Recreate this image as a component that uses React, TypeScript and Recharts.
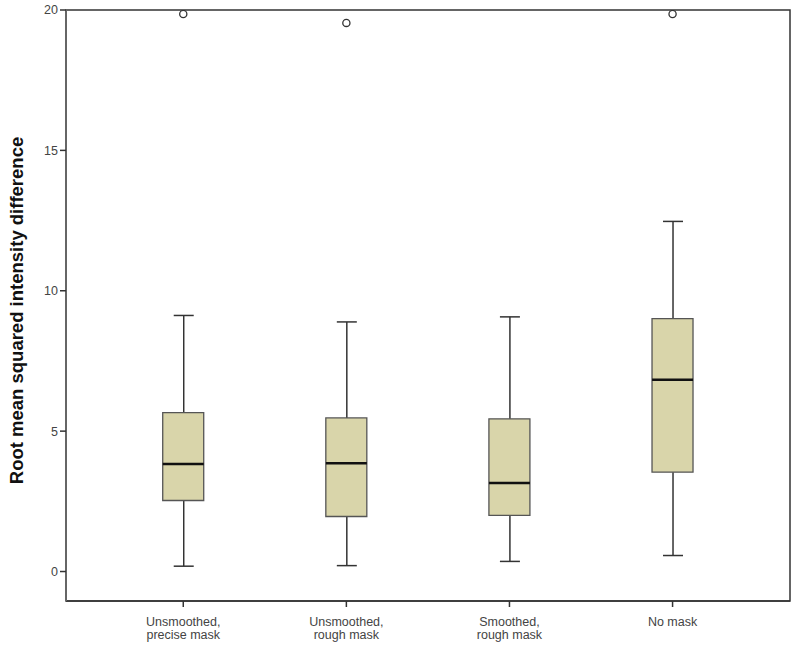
import React from 'react';
import { ComposedChart, Bar, Scatter, XAxis, YAxis, ReferenceArea } from 'recharts';

// ---- data ----
const categoryLines: string[][] = [
  ['Unsmoothed,', 'precise mask'],
  ['Unsmoothed,', 'rough mask'],
  ['Smoothed,', 'rough mask'],
  ['No mask'],
];
const positions = [1, 2, 3, 4];
const whiskerLow = [0.19, 0.21, 0.36, 0.57];
const q1 = [2.53, 1.96, 2.0, 3.54];
const median = [3.83, 3.86, 3.15, 6.83];
const q3 = [5.66, 5.47, 5.44, 9.01];
const whiskerHigh = [9.12, 8.89, 9.07, 12.47];
const outlierPos = [1, 2, 4];
const outlierVal = [19.86, 19.54, 19.86];
const yTicks = [0, 5, 10, 15, 20];
const yLabel = 'Root mean squared intensity difference';

const X_DOMAIN: [number, number] = [0.281, 4.72];
const Y_DOMAIN: [number, number] = [-1.05, 20];

const rows = positions.map((x, i) => ({
  x,
  whisker: [whiskerLow[i], whiskerHigh[i]],
  box: [q1[i], q3[i]],
  median: median[i],
}));
const outliers = outlierPos.map((x, i) => ({ x, y: outlierVal[i] }));

const FONT = '"Liberation Sans", Arial, Helvetica, sans-serif';

const WhiskerShape = (p: any) => {
  const { x, y, width, height } = p;
  const top = Math.min(y, y + height);
  const bot = Math.max(y, y + height);
  const cx = x + width / 2;
  return (
    <g stroke="#333" strokeWidth={1.5}>
      <line x1={cx} x2={cx} y1={top} y2={bot} />
      <line x1={x} x2={x + width} y1={top} y2={top} />
      <line x1={x} x2={x + width} y1={bot} y2={bot} />
    </g>
  );
};

const MedianShape = (p: any) => {
  const { cx, cy } = p;
  return <line x1={cx - 20.5} x2={cx + 20.5} y1={cy} y2={cy} stroke="#111" strokeWidth={2.5} />;
};

const OutlierShape = (p: any) => {
  const { cx, cy } = p;
  return <circle cx={cx} cy={cy} r={3.6} fill="#fff" stroke="#333" strokeWidth={1.3} />;
};

const XTick = (p: any) => {
  const { x, y, payload } = p;
  const lines = categoryLines[Math.round(payload.value) - 1] || [];
  return (
    <text x={x} y={y} textAnchor="middle" fill="#444" fontSize={12.5} fontFamily={FONT}>
      {lines.map((l, i) => (
        <tspan key={i} x={x} dy={i === 0 ? 17 : 12.8}>
          {l}
        </tspan>
      ))}
    </text>
  );
};

const YTitle = (p: any) => {
  const vb = p.viewBox || {};
  const cx = 16;
  const cy = (vb.y || 0) + (vb.height || 0) / 2 + 5;
  return (
    <text
      x={cx}
      y={cy}
      transform={`rotate(-90 ${cx} ${cy})`}
      textAnchor="middle"
      dominantBaseline="central"
      fontSize={18.5}
      fontWeight="bold"
      fill="#111"
      fontFamily={FONT}
    >
      {yLabel}
    </text>
  );
};

export default function App() {
  return (
    <div style={{ position: 'absolute', left: 0, top: 0, width: 800, height: 648, background: '#fff' }}>
      <ComposedChart
        width={800}
        height={648}
        data={rows}
        margin={{ top: 10, right: 10, bottom: 0, left: 0 }}
      >
        <XAxis
          xAxisId="main"
          dataKey="x"
          type="number"
          domain={X_DOMAIN}
          allowDataOverflow
          ticks={positions}
          interval={0}
          height={47}
          tickSize={6}
          tickLine={{ stroke: '#333', strokeWidth: 1.5 }}
          axisLine={{ stroke: '#333', strokeWidth: 1.5 }}
          tick={<XTick />}
        />
        <XAxis xAxisId="w" dataKey="x" type="number" domain={X_DOMAIN} allowDataOverflow hide height={0} />
        <XAxis xAxisId="b" dataKey="x" type="number" domain={X_DOMAIN} allowDataOverflow hide height={0} />
        <YAxis
          type="number"
          domain={Y_DOMAIN}
          allowDataOverflow
          ticks={yTicks}
          interval={0}
          width={66}
          tickSize={6}
          tickMargin={2}
          tickLine={{ stroke: '#333', strokeWidth: 1.5 }}
          axisLine={{ stroke: '#666', strokeWidth: 2 }}
          tick={{ fill: '#444', fontSize: 12.5, fontFamily: FONT }}
          label={<YTitle />}
        />
        <ReferenceArea
          xAxisId="main"
          x1={X_DOMAIN[0]}
          x2={X_DOMAIN[1]}
          y1={Y_DOMAIN[0]}
          y2={Y_DOMAIN[1]}
          fill="none"
          stroke="#333"
          strokeWidth={1.5}
          ifOverflow="visible"
        />
        <Bar xAxisId="w" dataKey="whisker" barSize={20} shape={<WhiskerShape />} isAnimationActive={false} />
        <Bar
          xAxisId="b"
          dataKey="box"
          barSize={41}
          fill="#d9d5aa"
          stroke="#555"
          strokeWidth={1.3}
          isAnimationActive={false}
        />
        <Scatter xAxisId="main" dataKey="median" data={rows} shape={<MedianShape />} isAnimationActive={false} />
        <Scatter xAxisId="main" dataKey="y" data={outliers} shape={<OutlierShape />} isAnimationActive={false} />
      </ComposedChart>
    </div>
  );
}
